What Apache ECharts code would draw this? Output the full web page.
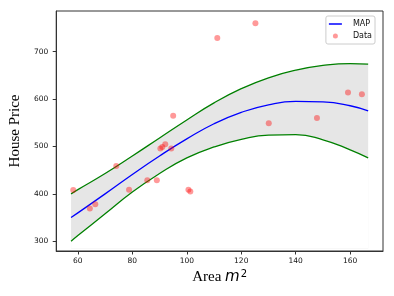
<!DOCTYPE html>
<html><head><meta charset="utf-8">
<script src="https://cdn.jsdelivr.net/npm/echarts@6/dist/echarts.min.js"></script>
<style>html,body{margin:0;padding:0;background:#fff;}#c{width:394px;height:296px;}</style>
</head><body><div id="c"></div>
<script>
// Observed data
var areaX = [58.3, 64.4, 66.4, 74.1, 78.8, 85.5, 89.0, 90.3, 91.0, 92.1, 94.3, 95.0, 100.6, 101.3, 111.2, 125.2, 130.1, 147.8, 159.2, 164.3];
var price = [408, 369, 378, 459, 409, 429, 429, 496, 499, 505, 496, 565, 409, 405, 729, 760, 549, 560, 614, 610];
// Model curves
var gridX = [57.5, 60, 70, 80, 90, 100, 110, 120, 130, 140, 150, 160, 166.6];
var mapY  = [350, 360, 400, 441, 480, 516, 548, 572, 588, 595, 594, 586, 575];
var upperY = [400, 409, 443, 480, 518, 556, 592, 622, 645, 661, 671, 675, 674];
var lowerY = [300, 312, 358, 404, 443, 476, 499, 515, 524, 525, 514, 493, 476];
var xTicks = [60, 80, 100, 120, 140, 160];
var yTicks = [300, 400, 500, 600, 700];

function pairs(xs, ys) { return xs.map(function (x, i) { return [x, ys[i]]; }); }

var chart = echarts.init(document.getElementById('c'), null, {renderer: 'canvas'});
var tickFont = {fontFamily: 'DejaVu Sans', fontSize: 7.5, color: '#111'};
chart.setOption({
  animation: false,
  grid: {left: 50, right: 11, top: 11, bottom: 45, show: true, borderColor: '#333', borderWidth: 1, backgroundColor: 'transparent'},
  legend: {
    right: 19, top: 16, orient: 'vertical', itemWidth: 13, itemHeight: 5, itemGap: 4,
    padding: [4, 3, 4, 3], backgroundColor: '#fff', borderColor: '#ccc', borderWidth: 1, borderRadius: 2,
    textStyle: {fontFamily: 'DejaVu Sans', fontSize: 8, color: '#111', padding: [0, 0, 0, 6]},
    data: [
      {name: 'MAP', icon: 'path://M0,0 L13,0 L13,1.5 L0,1.5 Z', itemStyle: {color: '#0000ff'}},
      {name: 'Data', icon: 'circle'}
    ]
  },
  xAxis: {
    type: 'value', min: 52.05, max: 172.05,
    axisLine: {show: true, lineStyle: {color: '#333', width: 1}},
    axisTick: {show: true, inside: false, length: 3.5, lineStyle: {color: '#333'}, customValues: xTicks},
    axisLabel: Object.assign({margin: 6, customValues: xTicks}, tickFont),
    splitLine: {show: false},
    name: '{a|Area }{m|m}{s|2}', nameLocation: 'middle', nameGap: 16,
    nameTextStyle: {
      rich: {
        a: {fontFamily: 'Liberation Serif', fontSize: 15, color: '#000', verticalAlign: 'bottom'},
        m: {fontFamily: 'DejaVu Sans', fontStyle: 'italic', fontSize: 15, color: '#000', verticalAlign: 'bottom'},
        s: {fontFamily: 'DejaVu Sans', fontSize: 10, color: '#000', verticalAlign: 'top', padding: [0, 0, 0, 1]}
      }
    }
  },
  yAxis: {
    type: 'value', min: 279.5, max: 785.9,
    axisLine: {show: true, lineStyle: {color: '#333', width: 1}},
    axisTick: {show: true, inside: false, length: 3.5, lineStyle: {color: '#333'}, customValues: yTicks},
    axisLabel: Object.assign({margin: 8, customValues: yTicks}, tickFont),
    splitLine: {show: false},
    name: 'House Price', nameLocation: 'middle', nameGap: 25,
    nameTextStyle: {fontFamily: 'Liberation Serif', fontSize: 15, color: '#000'}
  },
  series: [
    {type: 'line', name: 'bandTop', data: pairs(gridX, upperY), smooth: 0.5, symbol: 'none', z: 1, silent: true,
     lineStyle: {width: 0}, areaStyle: {color: '#e6e6e6', opacity: 1, origin: 285}},
    {type: 'line', name: 'bandBottom', data: pairs(gridX, lowerY), smooth: 0.5, symbol: 'none', z: 1, silent: true,
     lineStyle: {width: 0}, areaStyle: {color: '#ffffff', opacity: 1, origin: 285}},
    {type: 'line', name: 'upper', data: pairs(gridX, upperY), smooth: 0.5, symbol: 'none', z: 3,
     lineStyle: {color: '#008000', width: 1.3}},
    {type: 'line', name: 'lower', data: pairs(gridX, lowerY), smooth: 0.5, symbol: 'none', z: 3,
     lineStyle: {color: '#008000', width: 1.3}},
    {type: 'line', name: 'MAP', data: pairs(gridX, mapY), smooth: 0.5, symbol: 'none', z: 4,
     itemStyle: {color: '#0000ff'}, lineStyle: {color: '#0000ff', width: 1.3}},
    {type: 'scatter', name: 'Data', data: pairs(areaX, price), symbolSize: 6, z: 5,
     itemStyle: {color: 'rgba(255,0,0,0.5)'}}
  ]
});
</script></body></html>
